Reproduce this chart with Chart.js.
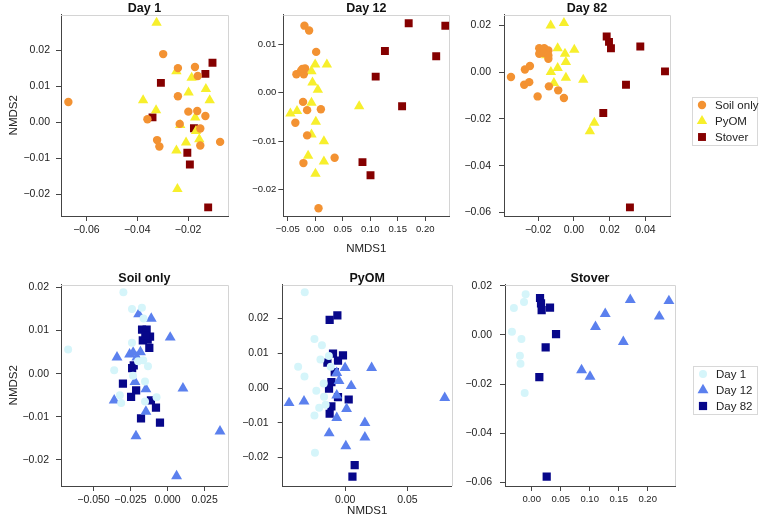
<!DOCTYPE html>
<html>
<head>
<meta charset="utf-8">
<script src="https://cdn.jsdelivr.net/npm/chart.js@4.4.1/dist/chart.umd.min.js"></script>
<style>
  html, body { margin: 0; padding: 0; background: #fff; }
  body { width: 759px; height: 525px; position: relative; overflow: hidden; }
  canvas { position: absolute; }
</style>
</head>
<body>
<script>
// NMDS scores, [NMDS1, NMDS2]

const treatmentLabels = ['Soil only', 'PyOM', 'Stover'];
const dayLabels = ['Day 1', 'Day 12', 'Day 82'];

// top row (one panel per day)
const day1Soil = [
  [-0.0671, 0.0056], [-0.0298, 0.0189], [-0.0240, 0.0150], [-0.0173, 0.0153],
  [-0.0162, 0.0128], [-0.0240, 0.0072], [-0.0199, 0.0029], [-0.0164, 0.0031],
  [-0.0132, 0.0017], [-0.0360, 0.0008], [-0.0233, -0.0005], [-0.0152, -0.0018],
  [-0.0322, -0.0050], [-0.0313, -0.0068], [-0.0152, -0.0065], [-0.0074, -0.0055]
];
const day1PyOM = [
  [-0.0324, 0.0276], [-0.0246, 0.0141], [-0.0186, 0.0123], [-0.0198, 0.0082],
  [-0.0130, 0.0092], [-0.0115, 0.0061], [-0.0377, 0.0061], [-0.0326, 0.0033],
  [-0.0172, 0.0013], [-0.0231, -0.0008], [-0.0169, -0.0025], [-0.0156, -0.0048],
  [-0.0208, -0.0057], [-0.0246, -0.0079], [-0.0242, -0.0186]
];
const day1Stover = [
  [-0.0104, 0.0165], [-0.0132, 0.0134], [-0.0307, 0.0109], [-0.0340, 0.0013],
  [-0.0177, -0.0017], [-0.0203, -0.0085], [-0.0193, -0.0118], [-0.0121, -0.0237]
];

const day12Soil = [
  [-0.0195, 0.0138], [-0.0110, 0.0128], [0.0018, 0.0084], [-0.0341, 0.0038],
  [-0.0256, 0.0045], [-0.0183, 0.0050], [-0.0207, 0.0038], [-0.0232, 0.0049],
  [-0.0220, -0.0019], [-0.0146, -0.0036], [0.0104, -0.0034], [-0.0360, -0.0062],
  [-0.0146, -0.0088], [0.0354, -0.0134], [-0.0213, -0.0145], [0.0061, -0.0238]
];
const day12PyOM = [
  [0.0000, 0.0058], [0.0213, 0.0058], [-0.0067, 0.0044], [-0.0049, 0.0021],
  [0.0049, 0.0006], [-0.0067, -0.0021], [-0.0450, -0.0043], [-0.0330, -0.0038],
  [0.0800, -0.0028], [0.0012, -0.0060], [-0.0067, -0.0086], [0.0159, -0.0100],
  [-0.0128, -0.0130], [0.0159, -0.0142], [0.0006, -0.0167]
];
const day12Stover = [
  [0.1700, 0.0143], [0.2366, 0.0138], [0.1268, 0.0086], [0.2200, 0.0075],
  [0.1100, 0.0033], [0.1580, -0.0028], [0.0860, -0.0143], [0.1006, -0.0170]
];

const day82Soil = [
  [-0.0352, -0.0021], [-0.0274, 0.0011], [-0.0246, 0.0026], [-0.0278, -0.0054],
  [-0.0250, -0.0043], [-0.0203, -0.0104], [-0.0140, -0.0061], [-0.0088, -0.0078],
  [-0.0056, -0.0111], [-0.0194, 0.0102], [-0.0166, 0.0102], [-0.0143, 0.0092],
  [-0.0194, 0.0078], [-0.0168, 0.0081], [-0.0143, 0.0071], [-0.0143, 0.0057]
];
const day82PyOM = [
  [-0.0130, 0.0199], [-0.0056, 0.0210], [-0.0091, 0.0102], [0.0002, 0.0095],
  [-0.0050, 0.0078], [-0.0045, 0.0043], [-0.0091, 0.0017], [-0.0129, 0.0000],
  [-0.0045, -0.0024], [0.0052, -0.0033], [-0.0112, -0.0047], [0.0114, -0.0217],
  [0.0089, -0.0253], [-0.0155, 0.0072]
];
const day82Stover = [
  [0.0183, 0.0152], [0.0196, 0.0129], [0.0207, 0.0102], [0.0371, 0.0109],
  [0.0509, 0.0003], [0.0291, -0.0054], [0.0164, -0.0175], [0.0313, -0.0578]
];

// day 82 as it shows up in the bottom row (x is drawn narrower there)
const soilDay82 = [
  [-0.0172, 0.0102], [-0.0141, 0.0102], [-0.0118, 0.0086], [-0.0167, 0.0077],
  [-0.0134, 0.0079], [-0.0123, 0.0060], [-0.0150, 0.0089], [-0.0239, 0.0013],
  [-0.0228, 0.0019], [-0.0301, -0.0023], [-0.0212, -0.0039], [-0.0246, -0.0054],
  [-0.0112, -0.0062], [-0.0078, -0.0079], [-0.0179, -0.0104], [-0.0051, -0.0114]
];
const pyomDay82 = [
  [-0.0124, 0.0196], [-0.0062, 0.0209], [-0.0097, 0.0099], [-0.0017, 0.0094],
  [-0.0057, 0.0079], [-0.0142, 0.0073], [-0.0083, 0.0046], [-0.0110, 0.0017],
  [-0.0129, -0.0002], [-0.0057, -0.0026], [0.0029, -0.0033], [-0.0110, -0.0053],
  [-0.0124, -0.0074], [0.0077, -0.0222], [0.0059, -0.0255]
];
const stoverDay82 = [
  [0.0144, 0.0150], [0.0161, 0.0128], [0.0172, 0.0101], [0.0316, 0.0111],
  [0.0420, 0.0003], [0.0241, -0.0051], [0.0132, -0.0172], [0.0259, -0.0577]
];

// tick values
const day1XTicks = [-0.06, -0.04, -0.02];
const day12XTicks = [-0.05, 0, 0.05, 0.10, 0.15, 0.20];
const day82XTicks = [-0.02, 0, 0.02, 0.04];
const soilXTicks = [-0.05, -0.025, 0, 0.025];
const pyomXTicks = [0, 0.05];
const stoverXTicks = [0, 0.05, 0.10, 0.15, 0.20];
const smallYTicks = [0.02, 0.01, 0, -0.01, -0.02];
const day12YTicks = [0.01, 0, -0.01, -0.02];
const wideYTicks = [0.02, 0, -0.02, -0.04, -0.06];

// marker styles
const treatmentStyles = [
  { pointStyle: 'circle', color: '#f39232', radius: 4.2 },
  { pointStyle: 'triangle', color: '#f7ef2c', radius: 6 },
  { pointStyle: 'rect', color: '#850000', radius: 5.6 }
];
const dayStyles = [
  { pointStyle: 'circle', color: '#d5f5fa', radius: 4 },
  { pointStyle: 'triangle', color: '#5b80ee', radius: 6.3 },
  { pointStyle: 'rect', color: '#07078a', radius: 5.8 }
];

const FONT = 'Liberation Sans, Arial, Helvetica, sans-serif';

function fmt(v, dec) {
  if (Math.abs(v) < 1e-9) return (0).toFixed(dec);
  return (v < 0 ? '\u2212' : '') + Math.abs(v).toFixed(dec);
}

function drawMarker(ctx, style, x, y, r) {
  ctx.beginPath();
  if (style === 'circle') {
    ctx.arc(x, y, r, 0, Math.PI * 2);
  } else if (style === 'triangle') {
    ctx.moveTo(x, y - r);
    ctx.lineTo(x + r * 0.866, y + r * 0.5);
    ctx.lineTo(x - r * 0.866, y + r * 0.5);
    ctx.closePath();
  } else {
    const s = r * Math.SQRT1_2;
    ctx.rect(x - s, y - s, 2 * s, 2 * s);
  }
  ctx.fill();
}

// light grey box on top and right of the plot area
const frame = {
  id: 'frame',
  beforeDatasetsDraw(chart) {
    const { ctx, chartArea: a } = chart;
    ctx.save();
    ctx.strokeStyle = '#d4d4d4';
    ctx.lineWidth = 1;
    ctx.beginPath();
    ctx.moveTo(a.left, Math.round(a.top) + 0.5);
    ctx.lineTo(Math.round(a.right) + 0.5, Math.round(a.top) + 0.5);
    ctx.lineTo(Math.round(a.right) + 0.5, a.bottom);
    ctx.stroke();
    ctx.restore();
  }
};

// boxed legend to the right of the plot
const boxLegend = {
  id: 'boxLegend',
  afterDraw(chart, args, opts) {
    if (!opts.show) return;
    const { ctx, chartArea } = chart;
    const sets = chart.data.datasets;
    const rowH = 16;
    const midY = (chartArea.top + chartArea.bottom) / 2 + opts.shiftY;
    const top = Math.round(midY - rowH * sets.length / 2);
    const left = Math.round(chartArea.right + opts.gap);
    ctx.save();
    ctx.strokeStyle = '#d8d8d8';
    ctx.lineWidth = 1;
    ctx.strokeRect(left + 0.5, top + 0.5, chart.width - left - 2, rowH * sets.length);
    ctx.font = '11.5px ' + FONT;
    ctx.textBaseline = 'middle';
    sets.forEach((ds, i) => {
      const cy = top + rowH * (i + 0.5);
      ctx.fillStyle = ds.backgroundColor;
      drawMarker(ctx, ds.pointStyle, left + 10, cy, ds.pointRadius);
      ctx.fillStyle = '#222';
      ctx.fillText(ds.label, left + 23, cy + 0.5);
    });
    ctx.restore();
  }
};

function axis(ticks, dec, min, max, o) {
  return {
    type: 'linear',
    min: min,
    max: max,
    afterBuildTicks: s => { s.ticks = ticks.map(v => ({ value: v })); },
    afterFit: s => {
      if (o.horizontal) s.height = o.size; else s.width = o.size;
    },
    grid: { drawOnChartArea: false, drawTicks: true, tickLength: 5, tickColor: '#444', tickWidth: 1 },
    border: { display: true, color: '#444', width: 1 },
    ticks: {
      autoSkip: false, maxRotation: 0, padding: o.pad, color: '#222',
      font: { family: FONT, size: o.font },
      callback: v => fmt(v, dec)
    },
    title: {
      display: !!o.title, text: o.title || '', color: '#222',
      font: { family: FONT, size: 11.5 },
      padding: o.titlePad || 0
    }
  };
}

const TOP = { canvasTop: -1, height: 261, xAxisH: 44, nmds1Pad: { top: 0, bottom: 4 } };
const BOTTOM = { canvasTop: 269, height: 253, xAxisH: 36, nmds1Pad: { top: 0, bottom: 4 } };

const panels = [
  { title: 'Day 1', row: TOP, left: 0, width: 234, area: [61, 229],
    series: [day1Soil, day1PyOM, day1Stover], labels: treatmentLabels, styles: treatmentStyles,
    x: [day1XTicks, 2, -0.0700, -0.0043], y: [smallYTicks, 2, -0.0261, 0.0299],
    xFont: 10.5, yFont: 10.5, yPad: 6, yTitle: true, xTitle: false },
  { title: 'Day 12', row: TOP, left: 234, width: 226, area: [283.3, 449.3],
    series: [day12Soil, day12PyOM, day12Stover], labels: treatmentLabels, styles: treatmentStyles,
    x: [day12XTicks, 2, -0.0579, 0.2438], y: [day12YTicks, 2, -0.0254, 0.0161],
    xFont: 9.5, yFont: 9.5, yPad: 2, yTitle: false, xTitle: true },
  { title: 'Day 82', row: TOP, left: 460, width: 299, area: [504, 670],
    series: [day82Soil, day82PyOM, day82Stover], labels: treatmentLabels, styles: treatmentStyles,
    x: [day82XTicks, 2, -0.0391, 0.0537], y: [wideYTicks, 2, -0.0615, 0.0246],
    xFont: 10.5, yFont: 10.5, yPad: 8, yTitle: false, xTitle: false,
    legend: { show: true, gap: 22, shiftY: 5.5 } },
  { title: 'Soil only', row: BOTTOM, left: 0, width: 234, area: [61, 229],
    series: [day1Soil, day12Soil, soilDay82], labels: dayLabels, styles: dayStyles,
    x: [soilXTicks, 3, -0.0719, 0.0406], y: [smallYTicks, 2, -0.0261, 0.0207],
    xFont: 10.5, yFont: 10.5, yPad: 7, yTitle: true, xTitle: false },
  { title: 'PyOM', row: BOTTOM, left: 234, width: 226, area: [282.7, 451.7],
    series: [day1PyOM, day12PyOM, pyomDay82], labels: dayLabels, styles: dayStyles,
    x: [pyomXTicks, 2, -0.0501, 0.0856], y: [smallYTicks, 2, -0.0282, 0.0298],
    xFont: 10.5, yFont: 10.5, yPad: 9, yTitle: false, xTitle: true },
  { title: 'Stover', row: BOTTOM, left: 460, width: 299, area: [505, 675],
    series: [day1Stover, day12Stover, stoverDay82], labels: dayLabels, styles: dayStyles,
    x: [stoverXTicks, 2, -0.0460, 0.2471], y: [wideYTicks, 2, -0.0615, 0.0205],
    xFont: 9.5, yFont: 10.5, yPad: 8, yTitle: false, xTitle: false,
    legend: { show: true, gap: 18, shiftY: 5 } }
];

panels.forEach(p => {
  const cv = document.createElement('canvas');
  cv.width = p.width;
  cv.height = p.row.height;
  cv.style.left = p.left + 'px';
  cv.style.top = p.row.canvasTop + 'px';
  document.body.appendChild(cv);

  const datasets = p.series.map((pts, i) => ({
    label: p.labels[i],
    data: pts.map(([x, y]) => ({ x: x, y: y })),
    pointStyle: p.styles[i].pointStyle,
    pointRadius: p.styles[i].radius,
    backgroundColor: p.styles[i].color,
    pointBorderWidth: 0,
    borderWidth: 0
  }));

  new Chart(cv, {
    type: 'scatter',
    data: { datasets: datasets },
    options: {
      responsive: false,
      animation: false,
      devicePixelRatio: 1,
      events: [],
      layout: { padding: { left: 0, top: 0, bottom: 0, right: p.left + p.width - p.area[1] } },
      plugins: {
        legend: { display: false },
        tooltip: { enabled: false },
        title: {
          display: true, text: p.title, color: '#111', fullSize: false,
          font: { family: FONT, size: 12.5, weight: 'bold', lineHeight: 1 },
          padding: { top: 3, bottom: 0 }
        },
        boxLegend: p.legend || { show: false }
      },
      scales: {
        x: axis(p.x[0], p.x[1], p.x[2], p.x[3], {
          horizontal: true, size: p.row.xAxisH, pad: 3, font: p.xFont,
          title: p.xTitle ? 'NMDS1' : '', titlePad: p.row.nmds1Pad
        }),
        y: axis(p.y[0], p.y[1], p.y[2], p.y[3], {
          horizontal: false, size: p.area[0] - p.left, pad: p.yPad, font: p.yFont,
          title: p.yTitle ? 'NMDS2' : '', titlePad: { top: 7, bottom: 0 }
        })
      }
    },
    plugins: [frame, boxLegend]
  });
});
</script>
</body>
</html>
